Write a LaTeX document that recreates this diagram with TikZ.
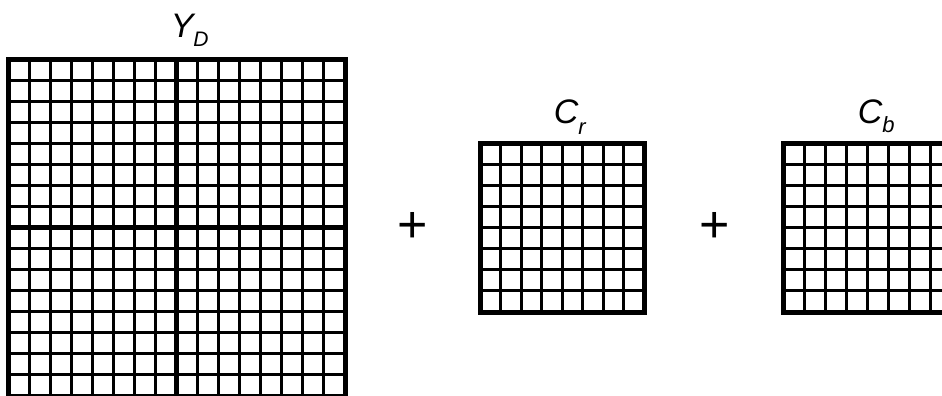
\documentclass[tikz,border=0pt]{standalone}
\usepackage{fontspec}
\usepackage{tikz}
\usetikzlibrary{positioning}
\newfontfamily\lblfont{Liberation Sans}
\tikzset{every picture/.style={line width=0.75pt}}
\tikzset{
  gridline/.style={line width=1.5pt, black},
  midline/.style={line width=2.2pt, black},
  frame/.style={line width=2.5pt, black},
  lbl/.style={inner sep=0pt, font=\lblfont\itshape\fontsize{17}{20}\selectfont},
  plussign/.style={inner sep=0pt, font=\lblfont\fontsize{26}{26}\selectfont}
}

\begin{document}
\begin{tikzpicture}[x=0.5pt, y=-0.5pt]
    % 画面范围
    \clip (0,0) rectangle (942,396);

    % 亮度块 Y_D：16x16
    \foreach \i in {1,...,15} {
        \draw[gridline] ({8+\i*21.06},59) -- ({8+\i*21.06},396);
        \draw[gridline] (8,{59+\i*21.06}) -- (345,{59+\i*21.06});
    }
    \draw[midline] (176.5,59) -- (176.5,396);
    \draw[midline] (8,227.5) -- (345,227.5);
    \draw[frame] (8,59) rectangle (345,396);

    % 色度块 C_r：8x8
    \foreach \i in {1,...,7} {
        \draw[gridline] ({480+\i*20.5},143) -- ({480+\i*20.5},312);
        \draw[gridline] (480,{143+\i*21.1}) -- (644,{143+\i*21.1});
    }
    \draw[frame] (480,143) rectangle (644,312);

    % 色度块 C_b：8x8（右侧超出画面）
    \foreach \i in {1,...,7} {
        \draw[gridline] ({783+\i*21},143) -- ({783+\i*21},312);
        \draw[gridline] (783,{143+\i*21.1}) -- (951,{143+\i*21.1});
    }
    \draw[frame] (783,143) rectangle (951,312);

    % 标注
    \node[lbl, anchor=base west] (lblY) at (170,37) {Y\raisebox{-5pt}{\fontsize{10.5}{12}\selectfont D}};
    \node[lbl, anchor=base west] (lblCr) at (553,123) {C\raisebox{-5.5pt}{\fontsize{11}{12}\selectfont r}};
    \node[lbl, anchor=base west] (lblCb) at (857,123) {C\raisebox{-4.5pt}{\fontsize{11}{12}\selectfont b}};

    % 加号
    \node[plussign] (plusA) at (413,227) {+};
    \node[plussign] (plusB) at (715,227) {+};
\end{tikzpicture}
\end{document}
